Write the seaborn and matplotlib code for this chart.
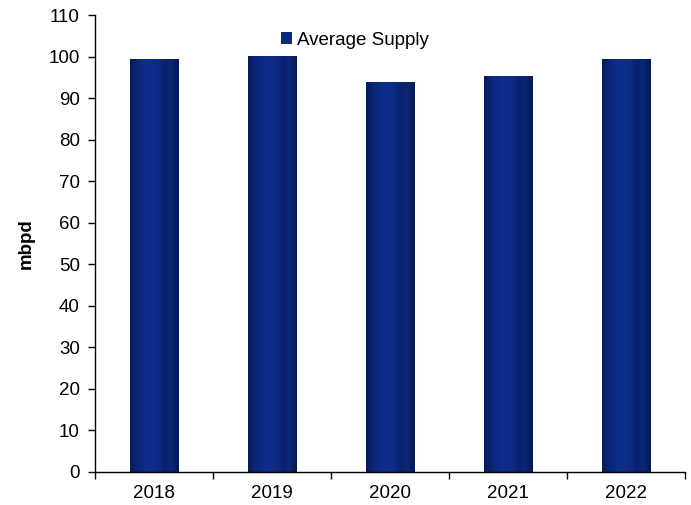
import numpy as np
import pandas as pd
import matplotlib
matplotlib.use("Agg")
import matplotlib.pyplot as plt
import seaborn as sns
from matplotlib.colors import LinearSegmentedColormap
from matplotlib.patches import Patch

years = ["2018", "2019", "2020", "2021", "2022"]
supply = [99.4, 100.1, 93.9, 95.3, 99.4]

sns.set_style("white")
plt.rcParams["font.family"] = ["Liberation Sans", "DejaVu Sans"]
plt.rcParams["text.color"] = "black"
plt.rcParams["axes.labelcolor"] = "black"
plt.rcParams["xtick.color"] = "black"
plt.rcParams["ytick.color"] = "black"

df = pd.DataFrame({"year": years, "supply": supply})

fig = plt.figure(figsize=(6.91, 5.05), dpi=100)
ax = fig.add_axes([95 / 691, 33 / 505, 590 / 691, 457 / 505])

sns.barplot(data=df, x="year", y="supply", color="#0c2a80", width=0.41,
            ax=ax, saturation=1)

# horizontal shading across each bar: dark edges, lighter middle
shade = LinearSegmentedColormap.from_list(
    "barshade",
    [(0.0, "#071a55"), (0.12, "#0a2470"), (0.35, "#0d2e8c"),
     (0.55, "#0c2c86"), (0.72, "#0a2370"), (0.85, "#0b2674"), (1.0, "#061850")])
grad = np.linspace(0, 1, 256).reshape(1, -1)
for bar in ax.patches:
    x0, y0 = bar.get_x(), bar.get_y()
    w, h = bar.get_width(), bar.get_height()
    im = ax.imshow(grad, cmap=shade, aspect="auto",
                   extent=[x0, x0 + w, y0, y0 + h], zorder=bar.get_zorder() + 0.1)
    im.set_clip_path(bar)

ax.set_xlim(-0.5, 4.5)
ax.set_ylim(0, 110)
ax.set_yticks(range(0, 111, 10))
ax.set_xticks(range(len(years)))
ax.set_xticklabels(years)
ax.set_xticks(np.arange(-0.5, 4.51, 1.0), minor=True)

for s in ["top", "right"]:
    ax.spines[s].set_visible(False)
for s in ["left", "bottom"]:
    ax.spines[s].set_color("black")
    ax.spines[s].set_linewidth(1.0)

ax.tick_params(axis="y", which="major", direction="out", length=5, width=1,
               color="black", labelsize=13.5, pad=6, left=True)
ax.tick_params(axis="x", which="major", length=0, labelsize=13.5, pad=9)
ax.tick_params(axis="x", which="minor", direction="out", length=5, width=1,
               color="black", bottom=True)

ax.set_xlabel("")
ax.set_ylabel("mbpd", fontsize=13.5, fontweight="bold", labelpad=10)

handle = Patch(facecolor="#0c2a80", edgecolor="none")
ax.legend([handle], ["Average Supply"], loc="upper center",
          bbox_to_anchor=(0.44, 1.0), frameon=False, fontsize=13.5,
          handlelength=0.6, handleheight=0.6, handletextpad=0.25)

ax.set_xlim(-0.5, 4.5)
ax.set_ylim(0, 110)

fig.savefig("out.png", dpi=100)
